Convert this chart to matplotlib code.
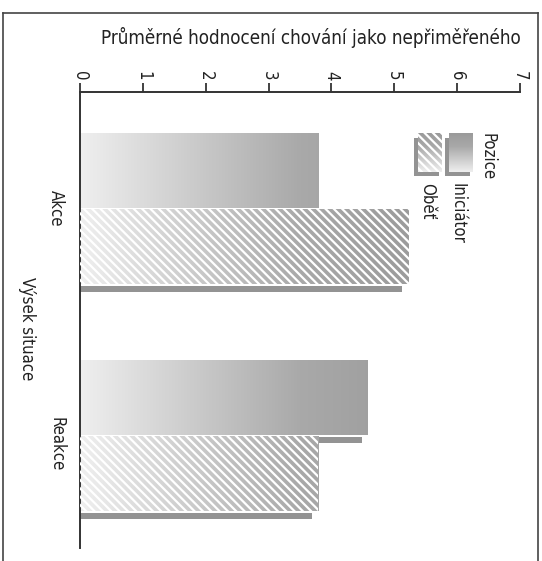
import numpy as np
import matplotlib
matplotlib.use("Agg")
from matplotlib import pyplot as plt
from matplotlib import font_manager
from matplotlib.patches import Rectangle
from matplotlib.lines import Line2D
from matplotlib.colors import LinearSegmentedColormap

# data
categories = ["Akce", "Reakce"]
series = ["Iniciátor", "Oběť"]
iniciator = [3.8, 4.58]
obet = [5.23, 3.79]
ticks = [0, 1, 2, 3, 4, 5, 6, 7]

title = "Průměrné hodnocení chování jako nepřiměřeného"
cat_title = "Výsek situace"
legend_title = "Pozice"

# condensed face if the system has one
fp = font_manager.FontProperties(family='DejaVu Sans', stretch='condensed')
cond = 'Condensed' in font_manager.findfont(fp)
stretch = 'condensed' if cond else 'normal'
plt.rcParams['font.family'] = ['DejaVu Sans']
plt.rcParams['font.stretch'] = stretch
plt.rcParams['hatch.linewidth'] = 1.6
plt.rcParams['hatch.color'] = 'white'

W, H = 542, 561
fig = plt.figure(figsize=(W / 100, H / 100), dpi=100)

def fx(px):
    return px / W

def fy(py):
    return 1 - py / H

ax = fig.add_axes([fx(80), fy(548), fx(520) - fx(80), fy(92) - fy(548)])
ax.set_xlim(0, 7)
ax.set_ylim(1.48, -0.529)

cmap = LinearSegmentedColormap.from_list("g", ["#efefef", "#a9a9a9", "#8e8e8e"])
grad = np.linspace(0, 1, 256).reshape(1, -1)
side = "#939393"
hatch = '\\' * 4

# bar geometry (fractions of category pitch)
ini_off = (-0.348, -0.018)
ini_side = (-0.009, 0.018)
obe_off = (-0.013, 0.317)
obe_side = (0.326, 0.352)
side_short = 0.1


def bar(y, val, off, sd, hatched):
    y0, y1 = y + off[0], y + off[1]
    im = ax.imshow(grad, cmap=cmap, extent=(0, 7, y1, y0), aspect='auto',
                   vmin=0, vmax=1, zorder=2, interpolation='bilinear')
    r = Rectangle((0, y0), val, y1 - y0, facecolor='none', edgecolor='none', zorder=2)
    ax.add_patch(r)
    im.set_clip_path(r)
    if hatched:
        ax.add_patch(Rectangle((0, y0), val, y1 - y0, facecolor='none',
                               edgecolor='white', lw=0, hatch=hatch, zorder=3))
    ax.barh(y + (sd[0] + sd[1]) / 2, val - side_short, height=sd[1] - sd[0],
            left=0, color=side, zorder=2)


for i, c in enumerate(categories):
    bar(i, iniciator[i], ini_off, ini_side, False)
    bar(i, obet[i], obe_off, obe_side, True)

ax.set_xticks(ticks)
ax.set_xticklabels([str(t) for t in ticks])
ax.set_yticks([])
ax.xaxis.tick_top()
ax.tick_params(axis='x', top=True, bottom=False, labeltop=True, labelbottom=False,
               length=6.5, width=1.2, pad=2, labelrotation=-90, labelsize=12,
               colors='#222222')
for s in ['right', 'bottom']:
    ax.spines[s].set_visible(False)
for s in ['top', 'left']:
    ax.spines[s].set_linewidth(1.4)
    ax.spines[s].set_color('#333333')

# category labels
for i, c in enumerate(categories):
    fig.text(fx(56), fy(190 + i * 227), c, rotation=-90, ha='center', va='top',
             fontsize=12, color='#222222')
fig.text(fx(27), fy(329), cat_title, rotation=-90, ha='center', va='center',
         fontsize=12, color='#222222')

t = fig.text(fx(311), fy(38), title, ha='center', va='center', fontsize=14,
             color='#222222', weight='medium')
# shrink the title until it fits the width it has in the reference
fig.canvas.draw()
r = fig.canvas.get_renderer()
while t.get_window_extent(r).width > 428:
    t.set_fontsize(t.get_fontsize() - 0.25)

# legend drawn manually
def swatch(x0, hatched):
    gx = fig.add_axes([fx(x0 + 4), fy(172), fx(24), fy(133) - fy(172)])
    gx.imshow(grad.T[::-1], cmap=cmap, aspect='auto', vmin=0, vmax=1.3)
    if hatched:
        gx.add_patch(Rectangle((0, 0), 1, 1, transform=gx.transAxes, facecolor='none',
                               edgecolor='white', lw=0, hatch=hatch))
    gx.axis('off')
    fig.add_artist(Rectangle((fx(x0), fy(176)), fx(4), fy(138) - fy(176),
                             transform=fig.transFigure, color=side, lw=0))
    fig.add_artist(Rectangle((fx(x0), fy(176)), fx(25), fy(172) - fy(176),
                             transform=fig.transFigure, color=side, lw=0))

swatch(445, False)
swatch(414, True)
fig.text(fx(487), fy(133), legend_title, rotation=-90, ha='center', va='top',
         fontsize=12, color='#222222')
fig.text(fx(457), fy(183), series[0], rotation=-90, ha='center', va='top',
         fontsize=12, color='#222222')
fig.text(fx(427), fy(183), series[1], rotation=-90, ha='center', va='top',
         fontsize=12, color='#222222')

# outer frame
for xs, ys in [([3, 3], [H, 13]), ([3, 538], [13, 13]), ([538, 538], [13, H])]:
    fig.add_artist(Line2D([fx(x) for x in xs], [fy(y) for y in ys],
                          color='#444444', lw=1.2))

fig.savefig("out.png", dpi=100)
